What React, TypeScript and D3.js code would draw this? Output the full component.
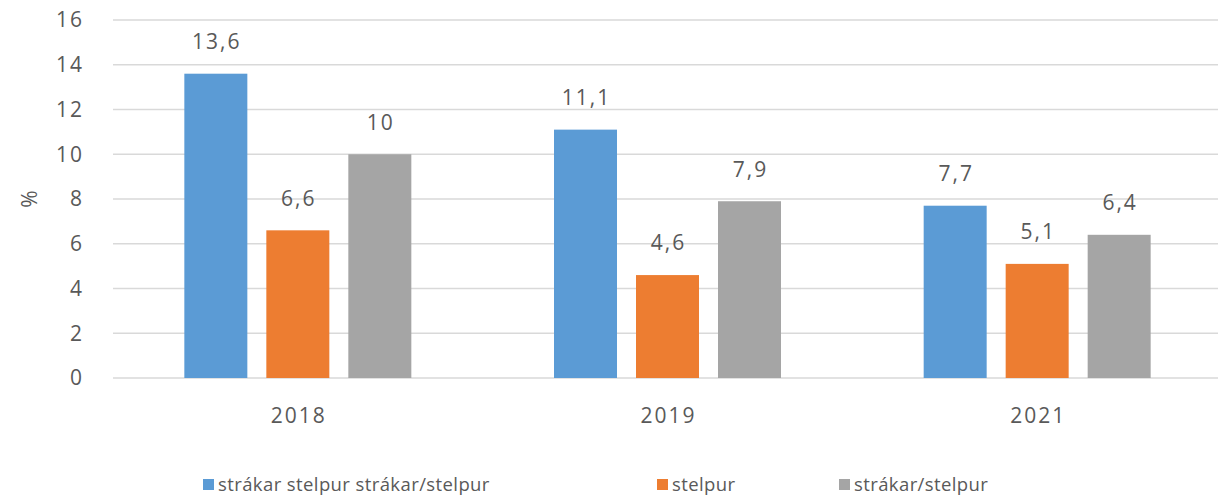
import React from "react";
import * as d3 from "d3";

const categories = ["2018", "2019", "2021"];
const seriesNames = ["strákar stelpur strákar/stelpur", "stelpur", "strákar/stelpur"];
const seriesColors = ["#5B9BD5", "#ED7D31", "#A5A5A5"];
const values2018 = [13.6, 6.6, 10];
const values2019 = [11.1, 4.6, 7.9];
const values2021 = [7.7, 5.1, 6.4];
const valuesByCategory = [values2018, values2019, values2021];
const yTicks = [0, 2, 4, 6, 8, 10, 12, 14, 16];

const W = 1218;
const H = 497;
const left = 113;
const right = 1222;
const top = 20;
const bottom = 378;

const font = "'Open Sans', 'DejaVu Sans', sans-serif";
const textColor = "#595959";

export default function App() {
  const x = d3.scaleBand<string>().domain(categories).range([left, right]).paddingInner(0).paddingOuter(0);
  const inner = d3.scaleBand<number>().domain([0, 1, 2]).range([0, x.bandwidth()]).paddingInner(0.2317).paddingOuter(0.87);
  const y = d3.scaleLinear().domain([0, 16]).range([bottom, top]);
  const fmt = (v: number) => String(v).replace(".", ",");

  const legendItems = [
    { x: 203, name: seriesNames[0], color: seriesColors[0] },
    { x: 657, name: seriesNames[1], color: seriesColors[1] },
    { x: 839, name: seriesNames[2], color: seriesColors[2] },
  ];

  return (
    <svg width={W} height={H} style={{ position: "absolute", left: 0, top: 0, background: "#fff" }} fontFamily={font}>
      {yTicks.map((t) => (
        <g key={t}>
          <line x1={left} x2={W} y1={y(t)} y2={y(t)} stroke="#D9D9D9" strokeWidth={1.3} />
          <text x={84} y={y(t)} dy="0.35em" textAnchor="end" fontSize={21} letterSpacing={2} fill={textColor}>{t}</text>
        </g>
      ))}
      <text transform={`translate(30,${y(8)}) rotate(-90)`} textAnchor="middle" dy="0.35em" fontSize={21} fill={textColor}>%</text>
      {categories.map((c, ci) => (
        <g key={c}>
          {valuesByCategory[ci].map((v, si) => {
            const bx = (x(c) as number) + (inner(si) as number);
            return (
              <g key={si}>
                <rect x={bx} y={y(v)} width={inner.bandwidth()} height={y(0) - y(v)} fill={seriesColors[si]} />
                <text x={bx + inner.bandwidth() / 2 + 1} y={y(v) - 32} textAnchor="middle" dy="0.35em" fontSize={21} letterSpacing={2} fill={textColor}>{fmt(v)}</text>
              </g>
            );
          })}
          <text x={(x(c) as number) + x.bandwidth() / 2 + 1} y={416} dy="0.35em" textAnchor="middle" fontSize={21} letterSpacing={2} fill={textColor}>{c}</text>
        </g>
      ))}
      {legendItems.map((l) => (
        <g key={l.name}>
          <rect x={l.x} y={479} width={11} height={11} fill={l.color} />
          <text x={l.x + 15} y={485} dy="0.35em" fontSize={18.5} letterSpacing={0.4} fill={textColor}>{l.name}</text>
        </g>
      ))}
    </svg>
  );
}
